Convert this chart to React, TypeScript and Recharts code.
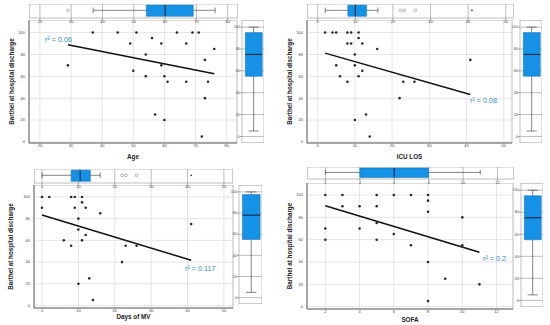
import React from "react";
import {
  ComposedChart,
  Scatter,
  Line,
  XAxis,
  YAxis,
  CartesianGrid,
  ReferenceArea,
  ReferenceLine,
  Label,
} from "recharts";

const FONT = "'Liberation Sans', Arial, sans-serif";
const BLUE = "#1592e6";
const R2_COLOR = "#3189c6";

// shared Barthel axis
const barthelTicks = [0, 20, 40, 60, 80, 100];
const boxYDomain = [-6, 106.5];

// --- Age ---
const ageValues = [29, 37, 45, 51, 49, 56, 59, 54, 50, 54, 59, 60, 61, 67, 64, 69, 71, 67, 76, 73, 74, 73, 57, 60, 72];
const ageBarthel = [70, 100, 100, 100, 90, 95, 90, 80, 65, 60, 70, 60, 55, 55, 100, 100, 100, 90, 85, 75, 55, 40, 25, 20, 5];
const ageFitX = [29, 76];
const ageFitY = [88.8, 62.4];
const ageTicks = [20, 30, 40, 50, 60, 70, 80];
const ageBox = [37, 54, 60, 69, 76]; // low whisker, q1, median, q3, high whisker
const ageOutliers = [29];
const ageExtremes: number[] = [];
const ageBarthelBox = [5, 55, 75, 95, 100];

// --- ICU LOS ---
const icuValues = [2, 4, 5, 8, 9, 11, 11, 8, 9, 12, 16, 10, 5, 10, 12, 6, 11, 8, 23, 26, 41, 22, 13, 10, 14];
const icuBarthel = [100, 100, 100, 100, 100, 100, 95, 90, 90, 90, 85, 80, 70, 70, 65, 60, 60, 55, 55, 55, 75, 40, 25, 20, 5];
const icuFitX = [2, 41];
const icuFitY = [81.2, 43.3];
const icuTicks = [0, 10, 20, 30, 40, 50];
const icuBox = [2, 8, 10, 13, 16];
const icuOutliers = [22, 23, 26];
const icuExtremes = [41];
const icuBarthelBox = [5, 55, 75, 95, 100];

// --- Days of MV ---
const mvValues = [0, 2, 8, 9, 11, 11, 0, 9, 12, 16, 10, 10, 12, 6, 11, 8, 23, 26, 41, 22, 13, 10, 14];
const mvBarthel = [100, 100, 100, 100, 100, 95, 90, 90, 90, 85, 80, 70, 65, 60, 60, 55, 55, 55, 75, 40, 25, 20, 5];
const mvFitX = [0, 41];
const mvFitY = [83.3, 41.7];
const mvTicks = [0, 10, 20, 30, 40, 50];
const mvBox = [0, 8, 10.5, 13.3, 16];
const mvOutliers = [22, 23, 26];
const mvExtremes = [41];
const mvBarthelBox = [5, 55, 78, 97.5, 100];

// --- SOFA ---
const sofaValues = [2, 3, 5, 6, 7, 8, 8, 3, 4, 5, 8, 5, 10, 2, 4, 6, 2, 5, 7, 10, 8, 9, 11, 8];
const sofaBarthel = [100, 100, 100, 100, 100, 100, 95, 90, 90, 90, 85, 75, 80, 70, 70, 65, 60, 60, 55, 55, 40, 25, 20, 5];
const sofaFitX = [2, 11];
const sofaFitY = [90.4, 48.8];
const sofaTicks = [2, 4, 6, 8, 10, 12];
const sofaBox = [2, 4, 6, 8, 11];
const sofaOutliers: number[] = [];
const sofaExtremes: number[] = [];
const sofaBarthelBox = [5, 55, 75, 95, 100];

const zip = (xs: number[], ys: number[]) => xs.map((x, i) => ({ x, y: ys[i] }));

const tickStyle = { fontSize: 4, fill: "#444", fontFamily: FONT };

const Dot = (p: any) => <circle cx={p.cx} cy={p.cy} r={1.3} fill="#2a2a2a" />;
const OpenCircle = (p: any) => (
  <circle cx={p.cx} cy={p.cy} r={1.4} fill="#fff" stroke="#8a8a8a" strokeWidth={0.6} />
);
const Star = (p: any) => <circle cx={p.cx} cy={p.cy} r={0.9} fill="#444" />;
const Nothing = () => <g />;

function MainPlot({ points, fit, xDomain, yDomain, xTicks, rect, title, yTitleOff, xTitleOff }: any) {
  const padL = 30;
  const padB = 26;
  return (
    <div style={{ position: "absolute", left: rect.x - padL, top: rect.y }}>
      <ComposedChart
        width={rect.w + padL + 1}
        height={rect.h + padB}
        margin={{ top: 0, right: 1, bottom: 0, left: 0 }}
      >
        <CartesianGrid stroke="#dadada" strokeWidth={0.7} />
        <ReferenceArea
          x1={xDomain[0]}
          x2={xDomain[1]}
          y1={yDomain[0]}
          y2={yDomain[1]}
          fill="none"
          stroke="#bcbcbc"
          strokeWidth={0.8}
        />
        <XAxis
          type="number"
          dataKey="x"
          domain={xDomain}
          ticks={xTicks}
          interval={0}
          allowDataOverflow
          height={padB}
          tickLine={false}
          tickSize={0}
          tickMargin={1.5}
          tick={tickStyle}
          axisLine={{ stroke: "#555", strokeWidth: 0.8 }}
        >
          <Label
            value={title}
            position="insideBottom"
            offset={xTitleOff}
            style={{ fontSize: 6.3, fontWeight: 700, fill: "#222", fontFamily: FONT }}
          />
        </XAxis>
        <YAxis
          type="number"
          dataKey="y"
          domain={yDomain}
          ticks={barthelTicks}
          interval={0}
          allowDataOverflow
          width={padL}
          tickLine={false}
          tickSize={0}
          tickMargin={4}
          tick={tickStyle}
          axisLine={{ stroke: "#555", strokeWidth: 0.8 }}
        >
          <Label
            value="Barthel at hospital discharge"
            angle={-90}
            position="insideLeft"
            offset={yTitleOff}
            style={{ fontSize: 6.3, fontWeight: 700, fill: "#222", fontFamily: FONT, textAnchor: "middle" }}
          />
        </YAxis>
        <Line
          data={fit}
          dataKey="y"
          stroke="#111"
          strokeWidth={1.5}
          dot={false}
          isAnimationActive={false}
        />
        <Scatter data={points} shape={Dot} isAnimationActive={false} />
      </ComposedChart>
    </div>
  );
}

function TopBox({ box, outliers, extremes, xDomain, xTicks, rect }: any) {
  const axisH = 9;
  const mid = 0.55;
  const lo = 0.12;
  const hi = 0.92;
  const line = { stroke: "#333", strokeWidth: 0.6 };
  return (
    <div style={{ position: "absolute", left: rect.x, top: rect.y }}>
      <ComposedChart width={rect.w} height={rect.h + axisH} margin={{ top: 0, right: 0, bottom: 0, left: 0 }}>
        <CartesianGrid horizontal={false} stroke="#8f8f8f" strokeWidth={0.6} />
        <ReferenceArea x1={xDomain[0]} x2={xDomain[1]} y1={0} y2={1} fill="none" stroke="#b0b0b0" strokeWidth={0.8} />
        <XAxis
          type="number"
          dataKey="x"
          domain={xDomain}
          ticks={xTicks}
          interval={0}
          allowDataOverflow
          height={axisH}
          axisLine={false}
          tickSize={2}
          tickMargin={0.5}
          tick={tickStyle}
          tickLine={{ stroke: "#666", strokeWidth: 0.6 }}
        />
        <YAxis type="number" dataKey="y" domain={[0, 1]} allowDataOverflow hide />
        <ReferenceLine segment={[{ x: box[0], y: mid }, { x: box[1], y: mid }]} {...line} />
        <ReferenceLine segment={[{ x: box[3], y: mid }, { x: box[4], y: mid }]} {...line} />
        <ReferenceLine segment={[{ x: box[0], y: 0.35 }, { x: box[0], y: 0.75 }]} {...line} />
        <ReferenceLine segment={[{ x: box[4], y: 0.35 }, { x: box[4], y: 0.75 }]} {...line} />
        <ReferenceArea x1={box[1]} x2={box[3]} y1={lo} y2={hi} fill={BLUE} fillOpacity={1} stroke="#0e70b8" strokeWidth={0.5} />
        <ReferenceLine segment={[{ x: box[2], y: lo }, { x: box[2], y: hi }]} stroke="#14304f" strokeWidth={1.2} />
        <Scatter data={box.map((x: number) => ({ x, y: mid }))} shape={Nothing} isAnimationActive={false} />
        <Scatter data={outliers.map((x: number) => ({ x, y: mid }))} shape={OpenCircle} isAnimationActive={false} />
        <Scatter data={extremes.map((x: number) => ({ x, y: mid }))} shape={Star} isAnimationActive={false} />
      </ComposedChart>
    </div>
  );
}

function RightBox({ box, rect }: any) {
  const axisW = 8;
  const mid = 0.53;
  const lo = 0.15;
  const hi = 0.92;
  const line = { stroke: "#333", strokeWidth: 0.6 };
  return (
    <div style={{ position: "absolute", left: rect.x - axisW, top: rect.y }}>
      <ComposedChart width={rect.w + axisW} height={rect.h} margin={{ top: 0, right: 0, bottom: 0, left: 0 }}>
        <CartesianGrid vertical={false} stroke="#8f8f8f" strokeWidth={0.6} />
        <ReferenceArea x1={0} x2={1} y1={boxYDomain[0]} y2={boxYDomain[1]} fill="none" stroke="#b0b0b0" strokeWidth={0.8} />
        <XAxis type="number" dataKey="x" domain={[0, 1]} allowDataOverflow hide />
        <YAxis
          type="number"
          dataKey="y"
          domain={boxYDomain}
          ticks={barthelTicks}
          interval={0}
          allowDataOverflow
          width={axisW}
          axisLine={false}
          tickSize={2}
          tickMargin={0.3}
          tick={{ ...tickStyle, fontSize: 3.6 }}
          tickLine={{ stroke: "#666", strokeWidth: 0.6 }}
        />
        <ReferenceLine segment={[{ x: mid, y: box[0] }, { x: mid, y: box[1] }]} {...line} />
        <ReferenceLine segment={[{ x: mid, y: box[3] }, { x: mid, y: box[4] }]} {...line} />
        <ReferenceLine segment={[{ x: 0.3, y: box[0] }, { x: 0.76, y: box[0] }]} {...line} />
        <ReferenceLine segment={[{ x: 0.3, y: box[4] }, { x: 0.76, y: box[4] }]} {...line} />
        <ReferenceArea x1={lo} x2={hi} y1={box[1]} y2={box[3]} fill={BLUE} fillOpacity={1} stroke="#0e70b8" strokeWidth={0.5} />
        <ReferenceLine segment={[{ x: lo, y: box[2] }, { x: hi, y: box[2] }]} stroke="#14304f" strokeWidth={1.2} />
        <Scatter data={box.map((y: number) => ({ x: mid, y }))} shape={Nothing} isAnimationActive={false} />
      </ComposedChart>
    </div>
  );
}

const panels = [
  {
    name: "Age",
    points: zip(ageValues, ageBarthel),
    fit: zip(ageFitX, ageFitY),
    xDomain: [16.5, 83.3],
    yDomain: [-1, 111.5],
    xTicks: ageTicks,
    box: ageBox,
    outliers: ageOutliers,
    extremes: ageExtremes,
    yBox: ageBarthelBox,
    r2: "r² = 0.06",
    main: { x: 29, y: 20, w: 208, h: 123 },
    top: { x: 29, y: 4, w: 209, h: 14 },
    right: { x: 242, y: 20, w: 22, h: 123 },
    r2Pos: { x: 45, y: 39 },
    yTitleOff: 13,
    xTitleOff: 10.5,
  },
  {
    name: "ICU LOS",
    points: zip(icuValues, icuBarthel),
    fit: zip(icuFitX, icuFitY),
    xDomain: [-2.85, 52.2],
    yDomain: [-1, 111.5],
    xTicks: icuTicks,
    box: icuBox,
    outliers: icuOutliers,
    extremes: icuExtremes,
    yBox: icuBarthelBox,
    r2: "r² = 0.08",
    main: { x: 307, y: 20, w: 205, h: 123 },
    top: { x: 307, y: 4, w: 207, h: 14 },
    right: { x: 520, y: 20, w: 22, h: 123 },
    r2Pos: { x: 470, y: 100 },
    yTitleOff: 13,
    xTitleOff: 10.5,
  },
  {
    name: "Days of MV",
    points: zip(mvValues, mvBarthel),
    fit: zip(mvFitX, mvFitY),
    xDomain: [-2.2, 52.5],
    yDomain: [-2.3, 111],
    xTicks: mvTicks,
    box: mvBox,
    outliers: mvOutliers,
    extremes: mvExtremes,
    yBox: mvBarthelBox,
    r2: "r² = 0.117",
    main: { x: 34, y: 185, w: 199, h: 123 },
    top: { x: 34, y: 169, w: 199, h: 14 },
    right: { x: 239, y: 185, w: 23, h: 119 },
    r2Pos: { x: 185, y: 268 },
    yTitleOff: 7,
    xTitleOff: 15.5,
  },
  {
    name: "SOFA",
    points: zip(sofaValues, sofaBarthel),
    fit: zip(sofaFitX, sofaFitY),
    xDomain: [0.93, 12.96],
    yDomain: [-2.1, 110.8],
    xTicks: sofaTicks,
    box: sofaBox,
    outliers: sofaOutliers,
    extremes: sofaExtremes,
    yBox: sofaBarthelBox,
    r2: "r² = 0.2",
    main: { x: 307, y: 183, w: 206, h: 126 },
    top: { x: 307, y: 167, w: 207, h: 12 },
    right: { x: 521, y: 183, w: 22, h: 124 },
    r2Pos: { x: 483, y: 258 },
    yTitleOff: 13,
    xTitleOff: 13.5,
  },
];

export default function App() {
  return (
    <div
      style={{
        position: "absolute",
        left: 0,
        top: 0,
        width: 550,
        height: 325,
        background: "#fff",
        fontFamily: FONT,
      }}
    >
      {panels.map((p) => (
        <React.Fragment key={p.name}>
          <MainPlot
            points={p.points}
            fit={p.fit}
            xDomain={p.xDomain}
            yDomain={p.yDomain}
            xTicks={p.xTicks}
            rect={p.main}
            title={p.name}
            yTitleOff={p.yTitleOff}
            xTitleOff={p.xTitleOff}
          />
          <TopBox
            box={p.box}
            outliers={p.outliers}
            extremes={p.extremes}
            xDomain={p.xDomain}
            xTicks={p.xTicks}
            rect={p.top}
          />
          <RightBox box={p.yBox} rect={p.right} />
          <div
            style={{
              position: "absolute",
              left: p.r2Pos.x,
              top: p.r2Pos.y - 4.5,
              fontSize: 7.2,
              lineHeight: "9px",
              color: R2_COLOR,
              whiteSpace: "nowrap",
            }}
          >
            {p.r2}
          </div>
        </React.Fragment>
      ))}
    </div>
  );
}
